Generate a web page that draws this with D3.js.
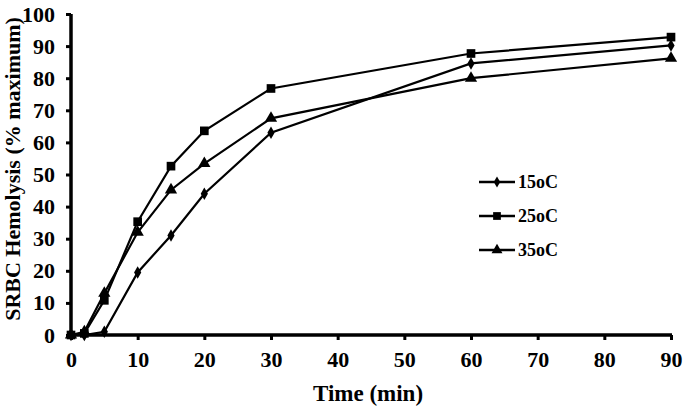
<!DOCTYPE html>
<html>
<head>
<meta charset="utf-8">
<script src="https://cdn.jsdelivr.net/npm/d3@7"></script>
<style>
  html, body { margin: 0; padding: 0; background: #fff; }
  svg { display: block; }
  text { font-family: "Liberation Serif", "Times New Roman", serif; font-weight: bold; fill: #000; }
</style>
</head>
<body>
<svg id="chart" width="685" height="408"></svg>
<script>
const times = [0, 2, 5, 10, 15, 20, 30, 60, 90];
const s15 = [0, 0, 1, 19.5, 31, 44, 63, 84.6, 90.2];
const s25 = [0, 0.5, 10.8, 35.3, 52.6, 63.6, 76.8, 87.7, 92.8];
const s35 = [0, 1, 13, 32, 45.2, 53.4, 67.5, 80, 86.2];
const seriesNames = ["15oC", "25oC", "35oC"];
const seriesSymbols = ["diamond", "square", "triangle"];
const xTicks = [0, 10, 20, 30, 40, 50, 60, 70, 80, 90];
const yTicks = [0, 10, 20, 30, 40, 50, 60, 70, 80, 90, 100];

const svg = d3.select("#chart");
const x = d3.scaleLinear().domain([0, 90]).range([71, 671]);
const y = d3.scaleLinear().domain([0, 100]).range([335, 14]);

const symType = { diamond: d3.symbolDiamond, square: d3.symbolSquare, triangle: d3.symbolTriangle };
const symSize = { diamond: 45, square: 75, triangle: 65 };
const serif = "'Liberation Serif', 'Times New Roman', serif";

// axes
const xAxis = svg.append("g").attr("transform", `translate(0,${y(0)})`)
  .call(d3.axisBottom(x).tickValues(xTicks).tickSize(5).tickPadding(11).tickSizeOuter(0));
const yAxis = svg.append("g").attr("transform", `translate(${x(0)},0)`)
  .call(d3.axisLeft(y).tickValues(yTicks).tickSize(5).tickPadding(11).tickSizeOuter(0));
[xAxis, yAxis].forEach(g => {
  g.attr("font-family", serif).attr("font-size", 22);
  g.select(".domain").attr("stroke", "#000").attr("stroke-width", 3.5);
  g.selectAll(".tick line").attr("stroke", "#000").attr("stroke-width", 3);
  g.selectAll(".tick text").style("font-family", serif)
    .style("font-weight", "bold").style("font-size", "22px").attr("fill", "#000");
});
xAxis.select(".domain").attr("d", `M${x(0) - 2},0H${x(90) + 1}`);
yAxis.select(".domain").attr("d", `M0,${y(0) + 2}V${y(100)}`);

// axis titles
svg.append("text").attr("x", 368).attr("y", 401).attr("text-anchor", "middle")
  .style("font-size", "23px").text("Time (min)");
svg.append("text").attr("transform", `translate(20,169) rotate(-90)`).attr("text-anchor", "middle")
  .style("font-size", "22px").text("SRBC Hemolysis (% maximum)");

// series
const data = [s15, s25, s35];
const line = d3.line().x(d => x(d[0])).y(d => y(d[1]));
data.forEach((vals, i) => {
  const pts = times.map((t, j) => [t, vals[j]]);
  svg.append("path").datum(pts).attr("d", line)
    .attr("fill", "none").attr("stroke", "#000").attr("stroke-width", 2.2);
  svg.selectAll(null).data(pts).enter().append("path")
    .attr("transform", d => `translate(${x(d[0])},${y(d[1])})`)
    .attr("d", d3.symbol().type(symType[seriesSymbols[i]]).size(symSize[seriesSymbols[i]]))
    .attr("fill", "#000");
});

// legend
const legY = [182, 216, 250];
seriesNames.forEach((name, i) => {
  const g = svg.append("g").attr("transform", `translate(479,${legY[i]})`);
  g.append("line").attr("x1", 0).attr("x2", 36).attr("y1", 0).attr("y2", 0)
    .attr("stroke", "#000").attr("stroke-width", 2.5);
  g.append("path").attr("transform", "translate(18,0)")
    .attr("d", d3.symbol().type(symType[seriesSymbols[i]]).size(symSize[seriesSymbols[i]] * 0.8))
    .attr("fill", "#000");
  g.append("text").attr("x", 39).attr("y", 6).style("font-size", "18px").text(name);
});
</script>
</body>
</html>
